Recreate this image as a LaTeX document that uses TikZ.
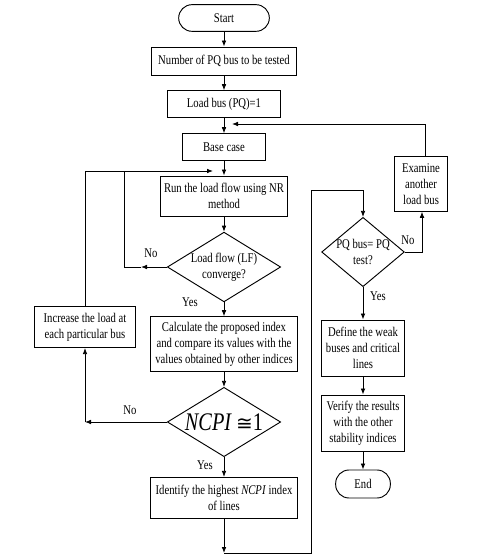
\documentclass[tikz,border=0pt]{standalone}
\usepackage{amsmath}
\usepackage{fontspec}
\setmainfont{Liberation Serif}[FakeStretch=0.8]
\newfontfamily\relfont{DejaVu Sans}
\usepackage{tikz}
\usetikzlibrary{shapes}
\usetikzlibrary{shapes.geometric}
\usetikzlibrary{arrows.meta}
\pgfdeclarelayer{edgelayer}
\pgfdeclarelayer{nodelayer}
\pgfsetlayers{edgelayer,nodelayer,main}
\tikzstyle{none}=[inner sep=0pt]
\tikzstyle{terminal}=[draw, rectangle, rounded corners=10pt, line width=0.7pt, align=center, inner sep=0pt, fill=white]
\tikzstyle{process}=[draw, rectangle, line width=0.7pt, align=center, inner sep=1pt, fill=white]
\tikzstyle{decision}=[draw, diamond, aspect=1.6, line width=0.7pt, align=center, inner sep=0pt, fill=white]
\tikzstyle{flow}=[line width=0.6pt, ->]

\begin{document}
\begin{tikzpicture}[x=0.75pt, y=-0.75pt, >={Latex[length=4.5pt,width=3.5pt]},
	font=\fontsize{10}{12}\selectfont]
	\useasboundingbox (0, 0) rectangle (485, 559);
	\begin{pgfonlayer}{nodelayer}
		\node [style=terminal, minimum width=68pt, minimum height=20pt] (0) at (224, 18) {Start};
		\node [style=process, minimum width=109pt, minimum height=21pt] (1) at (224, 61) {Number of PQ bus to be tested};
		\node [style=process, minimum width=85pt, minimum height=20pt] (2) at (224, 104) {Load bus (PQ)=1};
		\node [style=process, minimum width=62pt, minimum height=20pt] (3) at (224, 147) {Base case};
		\node [style=process, minimum width=95pt, minimum height=30pt] (4) at (224, 196) {Run the load flow using NR\\method};
		\node [style=decision, minimum width=85pt, minimum height=52pt] (5) at (224, 267) {Load flow (LF)\\converge?};
		\node [style=process, minimum width=110pt, minimum height=41pt] (6) at (224, 344) {Calculate the proposed index\\and compare its values with the\\values obtained by other indices};
		\node [style=process, minimum width=76pt, minimum height=31pt] (7) at (85, 327) {Increase the load at\\each particular bus};
		\node [style=decision, minimum width=85pt, minimum height=52pt] (8) at (224, 422) {\fontsize{19}{20}\selectfont\textit{NCPI}\,{\relfont\fontsize{15}{20}\selectfont ≅}1};
		\node [style=process, minimum width=110pt, minimum height=31pt] (9) at (224, 498) {Identify the highest \textit{NCPI} index\\of lines};
		\node [style=decision, minimum width=62pt, minimum height=52pt] (10) at (363, 252) {\makebox[0pt]{PQ bus= PQ}\\test?};
		\node [style=process, minimum width=40pt, minimum height=41pt] (11) at (421, 184) {Examine\\another\\load bus};
		\node [style=process, minimum width=62pt, minimum height=42pt] (12) at (363, 348) {Define the weak\\buses and critical\\lines};
		\node [style=process, minimum width=62pt, minimum height=42pt] (13) at (363, 423) {Verify the results\\with the other\\stability indices};
		\node [style=terminal, minimum width=41pt, minimum height=21pt] (14) at (363, 484) {End};
		\node [style=none] (15) at (151, 253) {No};
		\node [style=none] (16) at (190, 302) {Yes};
		\node [style=none] (17) at (130, 410) {No};
		\node [style=none] (18) at (205, 465) {Yes};
		\node [style=none] (19) at (408, 240) {No};
		\node [style=none] (20) at (378, 296) {Yes};
		\coordinate (21) at (213, 171);
		\coordinate (22) at (141, 267);
		\coordinate (23) at (124, 171);
		\coordinate (24) at (85, 422);
		\coordinate (25) at (224, 553);
		\coordinate (26) at (311, 190);
		\coordinate (27) at (232, 124);
		\coordinate (28) at (425, 157);
		\coordinate (29) at (422, 252);
	\end{pgfonlayer}
	\begin{pgfonlayer}{edgelayer}
		\draw [style=flow] (0) to (1);
		\draw [style=flow] (1) to (2);
		\draw [style=flow] (2) to (3);
		\draw [style=flow] (3) to (4);
		\draw [style=flow] (4) to (5);
		\draw [style=flow] (5) to (6);
		\draw [style=flow] (6) to (8);
		\draw [style=flow] (8) to (9);
		\draw [style=flow] (7.north) |- (21);
		\draw [style=flow] (5.west) to (22);
		\draw [line width=0.6pt] (22) -| (23);
		\draw [style=flow] (8.west) to (24);
		\draw [style=flow] (24) to (7.south);
		\draw [style=flow] (9) to (25);
		\draw [style=flow] (25) -| (26) -| (10.north);
		\draw [style=flow] (10) to (12);
		\draw [style=flow] (10.east) -| (29) to (11.south -| 29);
		\draw [style=flow] (28) |- (27);
		\draw [style=flow] (12) to (13);
		\draw [style=flow] (13) to (14);
	\end{pgfonlayer}
\end{tikzpicture}
\end{document}
